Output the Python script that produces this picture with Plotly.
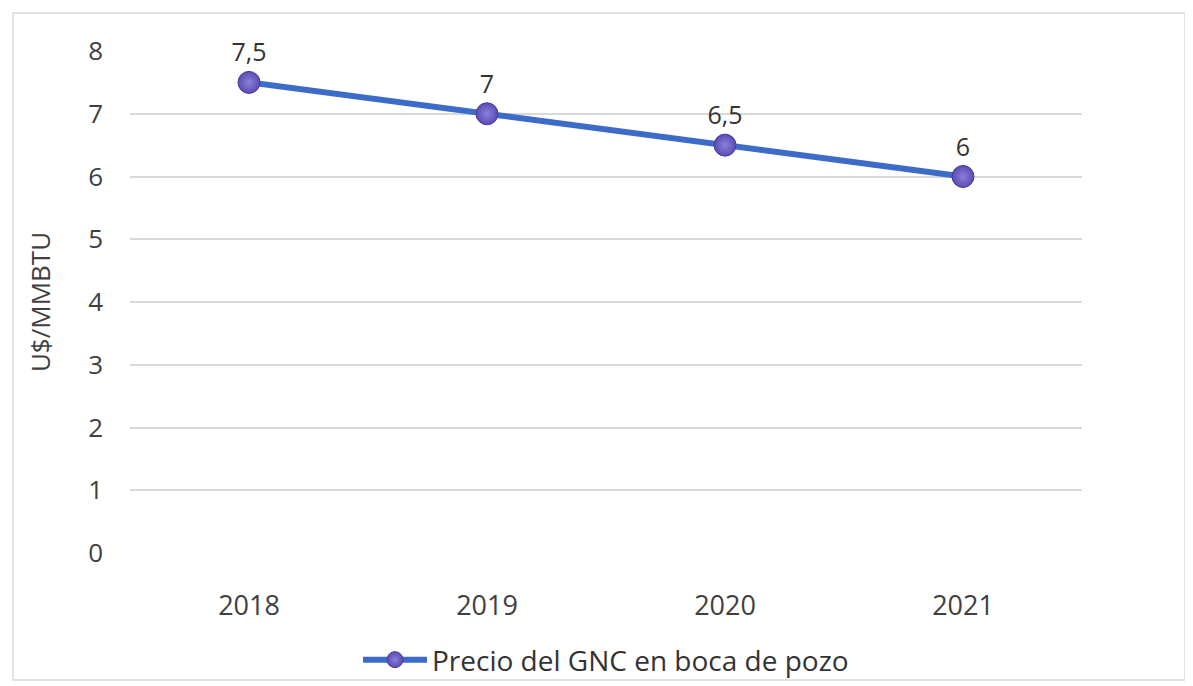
import plotly.graph_objects as go

years = ["2018", "2019", "2020", "2021"]
precio = [7.5, 7.0, 6.5, 6.0]
series_name = "Precio del GNC en boca de pozo"
y_title = "U$/MMBTU"
y_ticks = [0, 1, 2, 3, 4, 5, 6, 7, 8]

labels = [("%g" % v).replace(".", ",") for v in precio]

# page has an 8px body margin, so the figure is sized/offset accordingly
W, H = 1185, 678
L, R, T, B = 122, 111, 43, 133
pw, ph = W - L - R, H - T - B

fig = go.Figure()
fig.add_trace(go.Scatter(
    x=years, y=precio, name=series_name,
    mode="lines+markers+text",
    text=labels, textposition="top center", cliponaxis=False,
    textfont=dict(size=25, color="#333333", family="Open Sans"),
    line=dict(color="#3D6CC8", width=6),
    marker=dict(size=22, color="#5A4BB5", line=dict(color="#4A3C9C", width=1),
                gradient=dict(type="radial", color="#8C80D8")),
))

fig.update_layout(
    width=W, height=H,
    margin=dict(l=L, r=R, t=T, b=B, autoexpand=False),
    paper_bgcolor="white", plot_bgcolor="white",
    font=dict(family="Open Sans", size=26, color="#404040"),
    showlegend=True,
    legend=dict(orientation="h", x=0.5, xanchor="center", y=-0.213, yanchor="middle",
                bgcolor="rgba(0,0,0,0)", font=dict(size=28, color="#333333"),
                itemwidth=64),
    xaxis=dict(type="category", range=[-0.5, 3.5], showgrid=False, showline=False,
               ticks="", tickfont=dict(size=27), ticklabelstandoff=34),
    yaxis=dict(range=[0, 8], tickvals=y_ticks, showgrid=True, gridcolor="#D9D9D9",
               gridwidth=1.5, zeroline=False, showline=False, ticks="",
               tickfont=dict(size=26), ticklabelstandoff=26,
               title=dict(text=y_title, font=dict(size=26), standoff=30)),
    shapes=[dict(type="rect", xref="paper", yref="paper",
                 x0=(5 - L) / pw, x1=(1177 - L) / pw,
                 y0=(H - B - 672) / ph, y1=(H - B - 5) / ph,
                 line=dict(color="#D9D9D9", width=1.5), fillcolor="rgba(0,0,0,0)",
                 layer="below")],
)

fig.write_html("out.html")
